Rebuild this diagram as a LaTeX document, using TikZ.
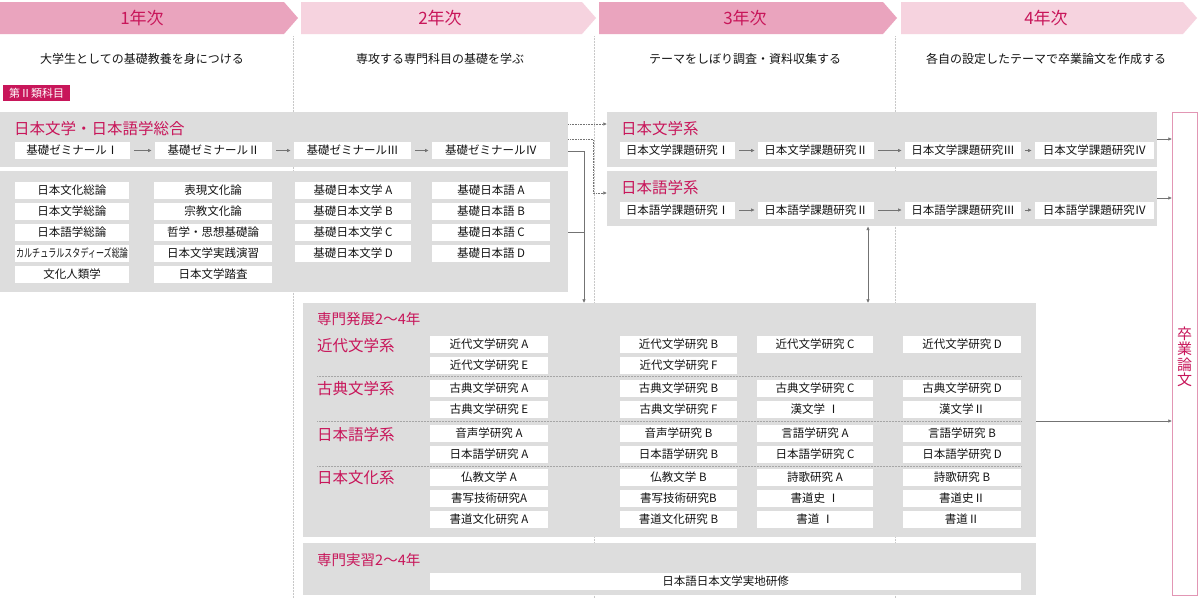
\documentclass[tikz,border=0pt]{standalone}
\usepackage{fontspec}
\setmainfont{Noto Sans CJK JP}
\usetikzlibrary{arrows.meta}
\definecolor{mag}{RGB}{200,22,90}
\definecolor{pinkD}{RGB}{234,164,190}
\definecolor{pinkL}{RGB}{246,211,223}
\definecolor{boxgray}{RGB}{221,221,221}
\definecolor{sepgray}{RGB}{200,200,200}
\definecolor{conngray}{RGB}{115,115,115}
\definecolor{sotsuborder}{RGB}{226,150,180}
\newcommand\myfs[1]{\fontsize{#1}{#1}\selectfont}
\newcommand\wb[5]{\node[wbox, minimum width={#3pt-#2pt}] (#1) at ({(#2+#3)/2},#4) {#5};}
\newcommand\gb[5]{\node[gbox, minimum width={#4pt-#2pt}, minimum height={#5pt-#3pt}] (#1) at (#2,#3) {};}
\begin{document}
\begin{tikzpicture}[x=1pt,y=-1pt,
  gbox/.style={fill=boxgray, draw=none, inner sep=0, anchor=north west},
  wbox/.style={fill=white, draw=none, inner sep=0, minimum height=17pt, font=\myfs{11.5}, text=black!92},
  ttl/.style={anchor=west, inner sep=0, text=mag, font=\myfs{15.5}},
  yr/.style={text=mag, font=\myfs{17}, inner sep=0},
  sub/.style={font=\myfs{12}, inner sep=0, text=black!92},
  tip/.tip={Latex[length=3.6pt,width=3.4pt]},
  conn/.style={draw=conngray, line width=0.6pt, -tip},
  conn0/.style={draw=conngray, line width=0.6pt},
  dconn/.style={conn, densely dotted},
  sepl/.style={draw=sepgray, line width=0.5pt, densely dotted},
]
\useasboundingbox (0,0) rectangle (1200,598);
\fill[white] (0,0) rectangle (1200,598);

% header bands
\fill[pinkD] (0,2) -- (284,2) -- (298,18) -- (284,34) -- (0,34) -- cycle;
\fill[pinkL] (301,2) -- (582,2) -- (596,18) -- (582,34) -- (301,34) -- cycle;
\fill[pinkD] (599,2) -- (883,2) -- (897,18) -- (883,34) -- (599,34) -- cycle;
\fill[pinkL] (901,2) -- (1183,2) -- (1197,18) -- (1183,34) -- (901,34) -- cycle;
\node[yr] (y1) at (142,18) {1年次};
\node[yr] (y2) at (440,18) {2年次};
\node[yr] (y3) at (745,18) {3年次};
\node[yr] (y4) at (1046,18) {4年次};

\node[sub] (s1) at (142,59) {大学生としての基礎教養を身につける};
\node[sub] (s2) at (440,59) {専攻する専門科目の基礎を学ぶ};
\node[sub] (s3) at (745,59) {テーマをしぼり調査・資料収集する};
\node[sub] (s4) at (1046,59) {各自の設定したテーマで卒業論文を作成する};

% column separators
\draw[sepl] (293,36) -- (293,598);
\draw[sepl] (594,36) -- (594,598);
\draw[sepl] (895,36) -- (895,598);

\node[fill=mag, text=white, font=\myfs{11}, inner sep=0, minimum width=67pt, minimum height=16pt, anchor=north west] (tag) at (3,85) {第Ⅱ類科目};

% gray boxes
\gb{g1}{0}{112}{568}{167}
\gb{g2}{0}{171}{568}{292}
\gb{bun}{607}{112}{1157}{167}
\gb{gog}{607}{171}{1157}{226}
\gb{hatten}{303}{303}{1036}{537}
\gb{jis}{303}{543}{1036}{595}
\node[fill=white, draw=sotsuborder, line width=0.8pt, inner sep=0, anchor=north west, minimum width=25pt, minimum height=483pt] (sotsu) at (1172,112) {};
\node[text=mag, align=center, inner sep=0, font=\fontsize{15}{15.5}\selectfont] (sotsut) at (1184.5,357) {卒\\業\\論\\文};

% titles
\node[ttl] (t1) at (14,129) {日本文学・日本語学総合};
\node[ttl] (t2) at (621,129) {日本文学系};
\node[ttl] (t3) at (621,188) {日本語学系};
\node[ttl, font=\myfs{14.5}] (t4) at (317,319) {専門発展2～4年};
\node[ttl] (t5) at (317,346) {近代文学系};
\node[ttl] (t6) at (317,389) {古典文学系};
\node[ttl] (t7) at (317,435) {日本語学系};
\node[ttl] (t8) at (317,478) {日本文化系};
\node[ttl, font=\myfs{14.5}] (t9) at (317,560) {専門実習2～4年};

% seminar row
\wb{z1}{15}{130}{150.5}{基礎ゼミナールⅠ}
\wb{z2}{155}{272}{150.5}{基礎ゼミナールⅡ}
\wb{z3}{294}{411}{150.5}{基礎ゼミナールⅢ}
\wb{z4}{432}{550}{150.5}{基礎ゼミナールⅣ}
\draw[conn] ([xshift=4pt]z1.east) -- ([xshift=-3pt]z2.west);
\draw[conn] ([xshift=4pt]z2.east) -- ([xshift=-3pt]z3.west);
\draw[conn] ([xshift=4pt]z3.east) -- ([xshift=-3pt]z4.west);

% basic subjects
\wb{a1}{15}{129}{190}{日本文化総論}
\wb{a2}{15}{129}{211}{日本文学総論}
\wb{a3}{15}{129}{232}{日本語学総論}
\wb{a4}{15}{129}{253}{\scalebox{0.7}[1]{カルチュラルスタディーズ総論}}
\wb{a5}{15}{129}{274}{文化人類学}
\wb{b1}{154}{272}{190}{表現文化論}
\wb{b2}{154}{272}{211}{宗教文化論}
\wb{b3}{154}{272}{232}{哲学・思想基礎論}
\wb{b4}{154}{272}{253}{日本文学実践演習}
\wb{b5}{154}{272}{274}{日本文学踏査}
\wb{c1}{295}{411}{190}{基礎日本文学 A}
\wb{c2}{295}{411}{211}{基礎日本文学 B}
\wb{c3}{295}{411}{232}{基礎日本文学 C}
\wb{c4}{295}{411}{253}{基礎日本文学 D}
\wb{d1}{432}{550}{190}{基礎日本語 A}
\wb{d2}{432}{550}{211}{基礎日本語 B}
\wb{d3}{432}{550}{232}{基礎日本語 C}
\wb{d4}{432}{550}{253}{基礎日本語 D}

% 3rd/4th year
\wb{k1}{620}{735}{150.5}{日本文学課題研究Ⅰ}
\wb{k2}{758}{874}{150.5}{日本文学課題研究Ⅱ}
\wb{k3}{905}{1021}{150.5}{日本文学課題研究Ⅲ}
\wb{k4}{1035}{1154}{150.5}{日本文学課題研究Ⅳ}
\wb{m1}{620}{735}{210}{日本語学課題研究Ⅰ}
\wb{m2}{758}{874}{210}{日本語学課題研究Ⅱ}
\wb{m3}{905}{1021}{210}{日本語学課題研究Ⅲ}
\wb{m4}{1035}{1154}{210}{日本語学課題研究Ⅳ}
\draw[conn] ([xshift=4pt]k1.east) -- ([xshift=-3pt]k2.west);
\draw[conn] ([xshift=4pt]k2.east) -- ([xshift=-3pt]k3.west);
\draw[conn] ([xshift=4pt]k3.east) -- ([xshift=-3pt]k4.west);
\draw[conn] ([xshift=4pt]m1.east) -- ([xshift=-3pt]m2.west);
\draw[conn] ([xshift=4pt]m2.east) -- ([xshift=-3pt]m3.west);
\draw[conn] ([xshift=4pt]m3.east) -- ([xshift=-3pt]m4.west);

% hatten
\draw[sepl, draw=black!35] (317,376.5) -- (1021,376.5);
\draw[sepl, draw=black!35] (317,421) -- (1021,421);
\draw[sepl, draw=black!35] (317,466) -- (1021,466);

\wb{h11}{430}{548}{344}{近代文学研究 A}
\wb{h12}{620}{737}{344}{近代文学研究 B}
\wb{h13}{757}{873}{344}{近代文学研究 C}
\wb{h14}{903}{1021}{344}{近代文学研究 D}
\wb{h21}{430}{548}{365}{近代文学研究 E}
\wb{h22}{620}{737}{365}{近代文学研究 F}
\wb{h31}{430}{548}{388}{古典文学研究 A}
\wb{h32}{620}{737}{388}{古典文学研究 B}
\wb{h33}{757}{873}{388}{古典文学研究 C}
\wb{h34}{903}{1021}{388}{古典文学研究 D}
\wb{h41}{430}{548}{409}{古典文学研究 E}
\wb{h42}{620}{737}{409}{古典文学研究 F}
\wb{h43}{757}{873}{409}{漢文学 Ⅰ}
\wb{h44}{903}{1021}{409}{漢文学Ⅱ}
\wb{h51}{430}{548}{433}{音声学研究 A}
\wb{h52}{620}{737}{433}{音声学研究 B}
\wb{h53}{757}{873}{433}{言語学研究 A}
\wb{h54}{903}{1021}{433}{言語学研究 B}
\wb{h61}{430}{548}{454.5}{日本語学研究 A}
\wb{h62}{620}{737}{454.5}{日本語学研究 B}
\wb{h63}{757}{873}{454.5}{日本語学研究 C}
\wb{h64}{903}{1021}{454.5}{日本語学研究 D}
\wb{h71}{430}{548}{477.5}{仏教文学 A}
\wb{h72}{620}{737}{477.5}{仏教文学 B}
\wb{h73}{757}{873}{477.5}{詩歌研究 A}
\wb{h74}{903}{1021}{477.5}{詩歌研究 B}
\wb{h81}{430}{548}{498.5}{書写技術研究A}
\wb{h82}{620}{737}{498.5}{書写技術研究B}
\wb{h83}{757}{873}{498.5}{書道史 Ⅰ}
\wb{h84}{903}{1021}{498.5}{書道史Ⅱ}
\wb{h91}{430}{548}{519.5}{書道文化研究 A}
\wb{h92}{620}{737}{519.5}{書道文化研究 B}
\wb{h93}{757}{873}{519.5}{書道 Ⅰ}
\wb{h94}{903}{1021}{519.5}{書道Ⅱ}

\wb{jj}{430}{1021}{581.5}{日本語日本文学実地研修}

% connectors
\coordinate (j1) at (593,139);
\draw[dconn] (g1.east |- 0,124) -- (bun.west |- 0,124);
\draw[dconn] (g1.east |- 0,139) -- (j1) |- (gog.west |- 0,193);
\draw[conn] (g1.east |- 0,151) -| (584,0 |- hatten.north);
\draw[conn0] (g2.east |- 0,232) -- (584,0 |- 0,232);
\draw[draw=conngray, line width=0.6pt, tip-tip] (868,0 |- gog.south) -- (868,0 |- hatten.north);
\draw[conn] (bun.east |- 0,139) -- (sotsu.west |- 0,139);
\draw[conn] (gog.east |- 0,198) -- (sotsu.west |- 0,198);
\draw[conn] (hatten.east |- 0,421) -- (sotsu.west |- 0,421);
\end{tikzpicture}
\end{document}
